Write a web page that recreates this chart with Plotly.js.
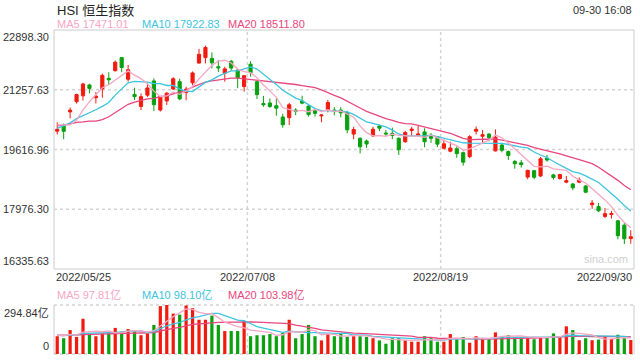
<!DOCTYPE html>
<html>
<head>
<meta charset="utf-8">
<script src="https://cdn.plot.ly/plotly-3.0.1.min.js"></script>
<style>html,body{margin:0;padding:0;background:#fff;}#chart{width:640px;height:360px;}</style>
</head>
<body>
<div id="chart"></div>
<script>
// ---- data ----
const dateLabels = ['2022/05/25', '2022/07/08', '2022/08/19', '2022/09/30'];
const priceTicks = [22898.30, 21257.63, 19616.96, 17976.30, 16335.63];
const volumeMax = 294.84;

// closes of the 19 sessions before the first candle (needed for the moving averages)
const priorCloses = [19934.71, 19946.36, 20276.17, 21089.39, 20869.52, 21101.89, 20793.40, 20001.96, 19633.69, 19824.57,
  19380.34, 19898.77, 19950.21, 20602.52, 20644.28, 20120.68, 20717.24, 20470.06, 19997.49];
const priorVolumes = [118, 105, 128, 140, 112, 98, 125, 110, 120, 102, 115, 108, 96, 122, 118, 110, 104, 125, 119];

const open = [20120, 20290, 20650, 20930, 21090, 21390, 21040, 21280, 21570, 21780,
  22140, 21545, 21130, 20800, 21110, 21500, 20700, 20950, 21280, 21480,
  21180, 21450, 21990, 22140, 22120, 21890, 21710, 22040, 21800, 21345,
  21960, 21480, 20880, 20895, 20820, 20510, 20490, 20700, 20950, 20810,
  20680, 20540, 20700, 20700, 20700, 20630, 20040, 19925, 19850, 19990,
  20262, 20070, 20060, 19925, 19830, 20140, 20010, 20100, 20010, 19970,
  19650, 19570, 19640, 19530, 19420, 20120, 19980, 20040, 19580, 19740,
  19560, 19290, 19250, 18860, 19035, 18890, 19380, 18920, 18820, 18720,
  18670, 18720, 18615, 18100, 18050, 17780, 17830, 17660, 17540, 17170];
const high = [20360, 20330, 20770, 21150, 21450, 21420, 21190, 21700, 21740, 22060,
  22150, 21940, 21315, 21160, 21435, 21570, 21090, 21190, 21600, 21560,
  21340, 21760, 22380, 22470, 22285, 22075, 21890, 22080, 21830, 21660,
  22040, 21500, 21090, 21020, 21020, 20600, 20900, 20750, 21095, 20830,
  20730, 20590, 20980, 20780, 20780, 20680, 20240, 19950, 19890, 20240,
  20300, 20150, 20220, 19950, 20130, 20240, 20260, 20200, 20070, 19990,
  19890, 19830, 19700, 19560, 20010, 20250, 20150, 20070, 20170, 19800,
  19590, 19330, 19330, 19060, 19060, 19410, 19470, 18950, 18950, 18890,
  18700, 18850, 18640, 18230, 18150, 18010, 17930, 17680, 17600, 17400];
const low = [20030, 19900, 20470, 20880, 20960, 21160, 20880, 21040, 21390, 21760,
  21740, 21480, 20975, 20700, 21060, 20670, 20660, 20840, 21250, 20970,
  20970, 21380, 21980, 21980, 21845, 21740, 21480, 21790, 21300, 21205,
  21620, 21000, 20790, 20760, 20545, 20215, 20290, 20560, 20860, 20520,
  20520, 20365, 20640, 20560, 20500, 20060, 19900, 19510, 19660, 19960,
  20120, 19990, 19900, 19465, 19800, 19990, 19980, 19680, 19800, 19680,
  19620, 19540, 19390, 19175, 19380, 20030, 19800, 19840, 19560, 19540,
  19330, 19090, 19120, 18800, 18800, 18860, 19280, 18790, 18790, 18690,
  18500, 18690, 18420, 17990, 17900, 17740, 17720, 17150, 17020, 17030];
const close = [20171.27, 20116.20, 20697.36, 21123.93, 21415.20, 21294.94, 21082.13, 21653.90, 21531.67, 22014.59,
  21869.05, 21806.18, 21067.58, 21067.99, 21308.21, 20845.43, 21075.00, 21163.91, 21559.59, 21008.34,
  21273.87, 21719.06, 22229.52, 22418.97, 21996.89, 21859.79, 21830.35, 21853.07, 21586.66, 21643.58,
  21725.78, 21124.20, 20844.74, 20797.95, 20751.21, 20297.72, 20846.18, 20661.06, 20890.22, 20574.63,
  20609.14, 20562.94, 20905.88, 20670.04, 20622.68, 20156.51, 20165.84, 19689.21, 19767.09, 20174.04,
  20201.94, 20045.77, 20003.44, 19610.84, 20082.43, 20175.62, 20040.86, 19830.52, 19922.45, 19763.91,
  19773.03, 19656.98, 19503.25, 19268.74, 19968.38, 20170.04, 20023.22, 19949.03, 19954.39, 19597.31,
  19452.89, 19224.91, 19202.73, 19044.30, 18854.62, 19362.25, 19326.86, 18847.10, 18930.38, 18761.69,
  18565.97, 18781.42, 18444.62, 18147.95, 17933.27, 17855.14, 17860.31, 17250.88, 17165.87, 17222.83];
// turnover, 亿
const volume = [107, 95, 144, 103, 212, 124, 107, 124, 124, 157,
  134, 150, 138, 113, 124, 175, 288, 294.84, 243, 237,
  292, 276, 206, 206, 231, 175, 138, 138, 138, 200,
  107, 113, 113, 120, 107, 126, 206, 95, 120, 175,
  107, 82, 120, 107, 126, 103, 107, 107, 103, 95,
  82, 62, 95, 95, 82, 74, 74, 107, 95, 74,
  74, 120, 95, 101, 68, 107, 95, 95, 130, 101,
  113, 101, 101, 101, 89, 101, 101, 124, 101, 166.6,
  144, 83, 95, 83, 86.95, 102, 91, 116, 96, 84.05];

// ---- helpers ----
const W = 640, H = 360;
const px = x => x / W, py = y => 1 - y / H;
const RED = '#f21a0e', GREEN = '#0aa10f';
const C5 = '#f7a6c4', C10 = '#3cc4e0', C20 = '#e8467e';
const FONT = 'Liberation Sans, Arial, "Noto Sans CJK SC", sans-serif';

function movingAvg(prior, series, n) {
  const all = prior.concat(series);
  const out = [];
  for (let i = prior.length; i < all.length; i++) {
    let s = 0;
    for (let k = i - n + 1; k <= i; k++) s += all[k];
    out.push(s / n);
  }
  return out;
}
const fmt = v => (Math.round(v * 100) / 100).toFixed(2);
const idx = close.map((_, i) => i);
const pMA5 = movingAvg(priorCloses, close, 5), pMA10 = movingAvg(priorCloses, close, 10), pMA20 = movingAvg(priorCloses, close, 20);
const vMA5 = movingAvg(priorVolumes, volume, 5), vMA10 = movingAvg(priorVolumes, volume, 10), vMA20 = movingAvg(priorVolumes, volume, 20);
const volColors = close.map((c, i) => c >= open[i] ? RED : GREEN);
const last = close.length - 1;

const line = (y, color, xa, ya) => ({type: 'scatter', mode: 'lines', x: idx, y: y, xaxis: xa, yaxis: ya,
  line: {color: color, width: 1.3}, hoverinfo: 'skip'});

const traces = [
  {type: 'candlestick', x: idx, open: open, high: high, low: low, close: close, xaxis: 'x', yaxis: 'y',
   increasing: {line: {color: RED, width: 1}, fillcolor: RED},
   decreasing: {line: {color: GREEN, width: 1}, fillcolor: GREEN},
   whiskerwidth: 0, hoverinfo: 'skip'},
  line(pMA20, C20, 'x', 'y'), line(pMA10, C10, 'x', 'y'), line(pMA5, C5, 'x', 'y'),
  {type: 'bar', x: idx, y: volume, xaxis: 'x2', yaxis: 'y2', width: 0.5,
   marker: {color: volColors, line: {width: 0}}, hoverinfo: 'skip'},
  line(vMA20, C20, 'x2', 'y2'), line(vMA10, C10, 'x2', 'y2'), line(vMA5, C5, 'x2', 'y2')
];

const L = 54, R = 634, mainTop = 30, mainBot = 269, volTop = 305, volBot = 354;
const xdom = [px(L), px(R)];
const ax = {showgrid: false, zeroline: false, showticklabels: false, showline: false, ticks: ''};

const ann = [];
const A = (text, x, y, opts) => ann.push(Object.assign({text: text, x: x, y: y, xref: 'paper', yref: 'paper',
  showarrow: false, font: {family: FONT, size: 11, color: '#333'}, xanchor: 'left', yanchor: 'middle'}, opts || {}));

A('HSI 恒生指数', px(55), py(10), {font: {family: FONT, size: 13, color: '#222'}});
A('09-30 16:08', px(634), py(10), {xanchor: 'right'});
A('MA5 ' + fmt(pMA5[last]), px(55), py(24), {font: {family: FONT, size: 11, color: C5}});
A('MA10 ' + fmt(pMA10[last]), px(140), py(24), {font: {family: FONT, size: 11, color: C10}});
A('MA20 ' + fmt(pMA20[last]), px(226), py(24), {font: {family: FONT, size: 11, color: C20}});
A('MA5 ' + fmt(vMA5[last]) + '亿', px(55), py(295), {font: {family: FONT, size: 11, color: C5}});
A('MA10 ' + fmt(vMA10[last]) + '亿', px(140), py(295), {font: {family: FONT, size: 11, color: C10}});
A('MA20 ' + fmt(vMA20[last]) + '亿', px(226), py(295), {font: {family: FONT, size: 11, color: C20}});

priceTicks.forEach((v, i) => {
  const anchor = i === 0 ? 'top' : (i === priceTicks.length - 1 ? 'bottom' : 'middle');
  ann.push({text: v.toFixed(2), x: px(51), y: v, xref: 'paper', yref: 'y', showarrow: false,
    xanchor: 'right', yanchor: anchor, yshift: i === 0 ? 1 : 0, font: {family: FONT, size: 11, color: '#333'}});
});
ann.push({text: volumeMax.toFixed(2) + '亿', x: px(51), y: volumeMax, xref: 'paper', yref: 'y2', showarrow: false,
  xanchor: 'right', yanchor: 'top', font: {family: FONT, size: 11, color: '#333'}});
ann.push({text: '0', x: px(51), y: 0, xref: 'paper', yref: 'y2', showarrow: false,
  xanchor: 'right', yanchor: 'bottom', font: {family: FONT, size: 11, color: '#333'}});

const fr = [0, 1 / 3, 2 / 3, 1];
const anchors = ['left', 'center', 'center', 'right'];
dateLabels.forEach((d, i) => A(d, px(L + (R - L) * fr[i]), py(277), {xanchor: anchors[i]}));
A('sina.com', px(630), py(259), {xanchor: 'right', font: {family: FONT, size: 11, color: '#cfcfcf'}});

const GRID = '#d4d4d4', BORDER = '#cccccc';
const shapes = [];
const S = (o) => shapes.push(Object.assign({xref: 'paper', yref: 'paper', layer: 'below'}, o));
// main panel box
S({type: 'rect', x0: px(L), x1: px(R), y0: py(mainBot), y1: py(mainTop), line: {color: BORDER, width: 1}});
// horizontal dotted grid (middle price ticks)
priceTicks.slice(1, -1).forEach(v => shapes.push({type: 'line', xref: 'paper', yref: 'y', x0: px(L), x1: px(R), y0: v, y1: v,
  line: {color: GRID, width: 1.5, dash: 'dot'}, layer: 'below'}));
// vertical dotted grid
[1 / 3, 2 / 3].forEach(f => {
  const x = px(L + (R - L) * f);
  S({type: 'line', x0: x, x1: x, y0: py(mainBot), y1: py(mainTop), line: {color: GRID, width: 1.5, dash: 'dot'}});
  S({type: 'line', x0: x, x1: x, y0: py(volBot), y1: py(volTop), line: {color: GRID, width: 1.5, dash: 'dot'}});
});
// volume panel frame
S({type: 'line', x0: px(L), x1: px(R), y0: py(volTop), y1: py(volTop), line: {color: GRID, width: 1.5, dash: 'dot'}});
S({type: 'line', x0: px(L), x1: px(R), y0: py(volBot), y1: py(volBot), line: {color: GRID, width: 1.5, dash: 'dot'}});
S({type: 'line', x0: px(L), x1: px(L), y0: py(volBot), y1: py(volTop), line: {color: BORDER, width: 1}});
S({type: 'line', x0: px(R), x1: px(R), y0: py(volBot), y1: py(volTop), line: {color: BORDER, width: 1}});

const layout = {
  width: W, height: H, margin: {l: 0, r: 0, t: 0, b: 0}, showlegend: false,
  paper_bgcolor: '#fff', plot_bgcolor: 'rgba(0,0,0,0)',
  xaxis: Object.assign({}, ax, {domain: xdom, range: [-0.5, close.length - 0.5], anchor: 'y', rangeslider: {visible: false}}),
  yaxis: Object.assign({}, ax, {domain: [py(mainBot), py(mainTop)], range: [priceTicks[4], priceTicks[0]], anchor: 'x'}),
  xaxis2: Object.assign({}, ax, {domain: xdom, range: [-0.5, close.length - 0.5], anchor: 'y2'}),
  yaxis2: Object.assign({}, ax, {domain: [py(volBot), py(volTop)], range: [0, volumeMax], anchor: 'x2'}),
  annotations: ann, shapes: shapes
};
Plotly.newPlot('chart', traces, layout, {displayModeBar: false, staticPlot: true});
</script>
</body>
</html>
